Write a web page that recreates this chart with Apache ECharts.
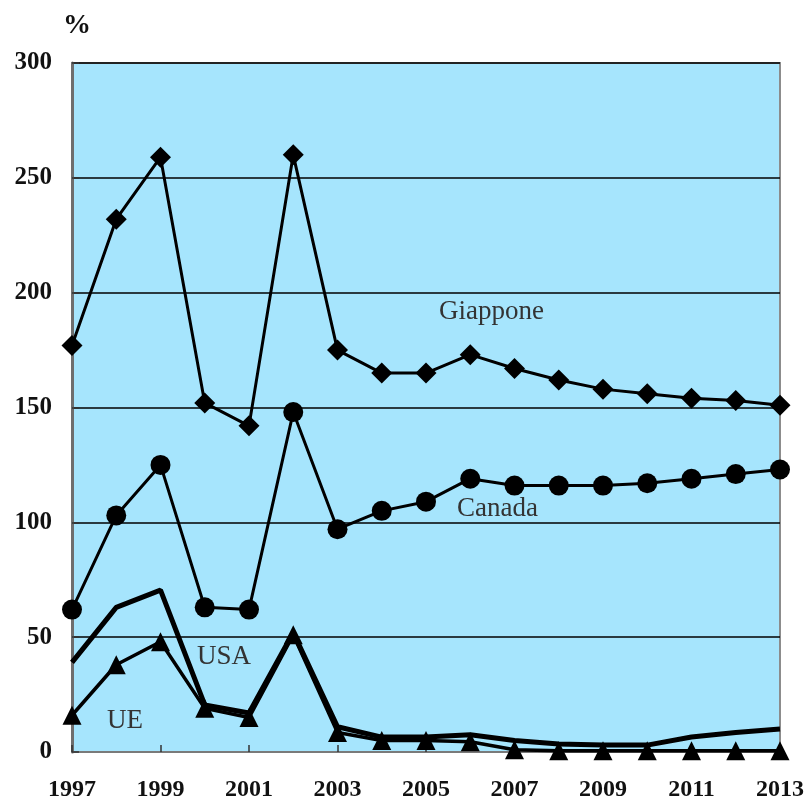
<!DOCTYPE html>
<html>
<head>
<meta charset="utf-8">
<script src="https://cdn.jsdelivr.net/npm/echarts@6/dist/echarts.min.js"></script>
<style>
  html, body { margin: 0; padding: 0; background: #fff; }
  #chart-container { width: 804px; height: 801px; }
</style>
</head>
<body>
<div id="chart-container"></div>
<script>
var dom = document.getElementById("chart-container");
var myChart = echarts.init(dom, null, { renderer: "canvas" });

const years = ["1997", "1998", "1999", "2000", "2001", "2002", "2003", "2004", "2005",
  "2006", "2007", "2008", "2009", "2010", "2011", "2012", "2013"];

const giappone = [177, 232, 259, 152, 142, 260, 175, 165, 165, 173, 167, 162, 158, 156, 154, 153, 151];
const canada = [62, 103, 125, 63, 62, 148, 97, 105, 109, 119, 116, 116, 116, 117, 119, 121, 123];
const usa = [39, 63, 70.5, 20.5, 17, 52, 11, 6.5, 6.5, 7.5, 5, 3.5, 3, 3, 6.5, 8.5, 10];
const ue = [16, 38, 48, 19, 15, 51, 8.5, 5, 5, 4.5, 1, 0.5, 0.5, 0.5, 0.5, 0.5, 0.5];

const serif = "'Liberation Serif', 'DejaVu Serif', serif";

function lineSeries(name, data, symbol, size, width) {
  return {
    name: name,
    type: "line",
    data: data,
    symbol: symbol,
    symbolSize: size,
    showSymbol: symbol !== "none",
    lineStyle: { color: "#000", width: width },
    itemStyle: { color: "#000" },
    animation: false
  };
}

var option = {
  grid: {
    left: 72, right: 24, top: 63, bottom: 49,
    containLabel: false,
    outerBoundsMode: "none",
    show: true,
    backgroundColor: "#a6e5fd",
    borderColor: "#8c8c8c",
    borderWidth: 2
  },
  xAxis: {
    type: "category",
    data: years,
    boundaryGap: false,
    axisLine: { lineStyle: { color: "#7a7a7a", width: 2 } },
    axisTick: { inside: true, interval: 1, length: 7, lineStyle: { color: "#333", width: 1.5 } },
    axisLabel: {
      interval: 1, margin: 26, color: "#111",
      fontFamily: serif, fontWeight: "bold", fontSize: 24
    },
    splitLine: { show: false }
  },
  yAxis: {
    type: "value",
    min: 0, max: 300, interval: 50,
    axisLine: { show: true, lineStyle: { color: "#6e6e6e", width: 3 } },
    axisTick: { show: true, inside: true, length: 7, lineStyle: { color: "#333", width: 1.5 } },
    axisLabel: {
      margin: 20, color: "#111",
      fontFamily: serif, fontWeight: "bold", fontSize: 25
    },
    splitLine: { lineStyle: { color: "#000", width: 1.6 } }
  },
  graphic: [
    { type: "text", left: 63, top: 12, style: { text: "%", font: "bold 28px " + serif, fill: "#111" } },
    { type: "text", left: 439, top: 298, style: { text: "Giappone", font: "27px " + serif, fill: "#333" } },
    { type: "text", left: 457, top: 495, style: { text: "Canada", font: "27px " + serif, fill: "#333" } },
    { type: "text", left: 197, top: 643, style: { text: "USA", font: "27px " + serif, fill: "#333" } },
    { type: "text", left: 107, top: 707, style: { text: "UE", font: "27px " + serif, fill: "#333" } }
  ],
  series: [
    lineSeries("Giappone", giappone, "diamond", 21, 3),
    lineSeries("Canada", canada, "circle", 20, 3),
    lineSeries("USA", usa, "none", 0, 5),
    lineSeries("UE", ue, "triangle", 19, 3.5)
  ]
};

myChart.setOption(option);
window.addEventListener("resize", myChart.resize);
</script>
</body>
</html>
